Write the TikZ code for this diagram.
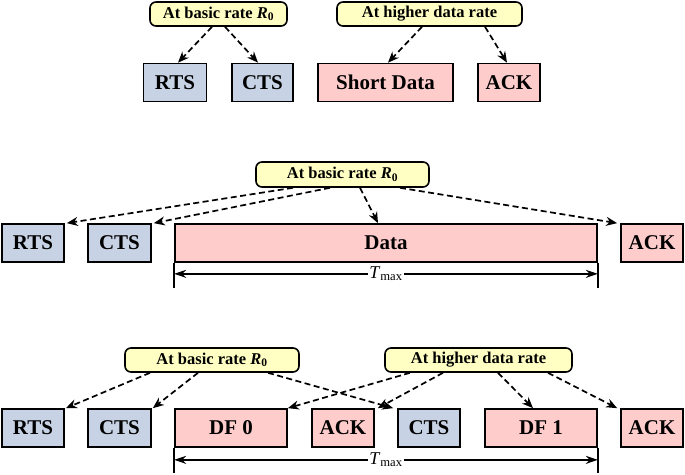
\documentclass[tikz,border=0pt]{standalone}
\usepackage{fontspec}
\setmainfont{Liberation Serif}
\usepackage{xcolor}
\usetikzlibrary{arrows.meta,calc}

\definecolor{ctlblue}{RGB}{199,210,228}
\definecolor{datapink}{RGB}{255,204,204}
\definecolor{rateyellow}{RGB}{255,255,196}

\begin{document}
\begin{tikzpicture}[x=1pt,y=-1pt,
    frame/.style={draw, line width=1.7pt, minimum height=38pt, inner sep=0pt, font=\fontsize{21}{24}\selectfont\bfseries},
    ctl/.style={frame, fill=ctlblue},
    dat/.style={frame, fill=datapink},
    rate/.style={draw, line width=1.6pt, rounded corners=6pt, fill=rateyellow, minimum height=24pt, inner sep=0pt, font=\fontsize{16.5}{19}\selectfont\bfseries},
    link/.style={line width=1.7pt, dash pattern=on 6pt off 3.5pt, -{Stealth[length=11pt,width=9pt]}},
    span/.style={line width=1.6pt, {Stealth[length=12pt,width=8pt]}-{Stealth[length=12pt,width=8pt]}},
    tmax/.style={fill=white, inner sep=1pt, font=\fontsize{18}{20}\selectfont},
  ]
    \useasboundingbox (0,0) rectangle (685,474);

    % Top: rates of the frames
    \node[rate, minimum width=137pt] (tbasic) at (218.5,14) {At basic rate \textit{R}\textsubscript{0}};
    \node[rate, minimum width=185pt] (thigh) at (429.5,14) {At higher data rate};
    \node[ctl, minimum width=63pt] (trts) at (175,82.5) {RTS};
    \node[ctl, minimum width=61pt] (tcts) at (262.5,82.5) {CTS};
    \node[dat, minimum width=135pt] (tshort) at (385.5,82.5) {Short Data};
    \node[dat, minimum width=62pt] (tack) at (509,82.5) {ACK};

    \draw[link] ([xshift=-6.5pt]tbasic.south) -- ([xshift=3pt]trts.north);
    \draw[link] ([xshift=6.5pt]tbasic.south) -- ([xshift=-4.5pt]tcts.north);
    \draw[link] ([xshift=-7.5pt]thigh.south) -- ([xshift=2.5pt]tshort.north);
    \draw[link] ([xshift=55.5pt]thigh.south) -- ([xshift=-2pt]tack.north);

    % Middle: one long data frame
    \node[rate, minimum width=173pt, minimum height=25pt] (mbasic) at (342.5,174.5) {At basic rate \textit{R}\textsubscript{0}};
    \node[ctl, minimum width=62pt] (mrts) at (33,243) {RTS};
    \node[ctl, minimum width=63pt] (mcts) at (119.5,243) {CTS};
    \node[dat, minimum width=422pt] (mdata) at (386,243) {Data};
    \node[dat, minimum width=62pt] (mack) at (652,243) {ACK};

    \draw[link] ([xshift=-49.5pt]mbasic.south) -- ([xshift=2pt]mrts.north east);
    \draw[link] ([xshift=-12.5pt]mbasic.south) -- ([xshift=2pt]mcts.north east);
    \draw[link] ([xshift=17.5pt]mbasic.south) -- ([xshift=-8pt]mdata.north);
    \draw[link] ([xshift=57.5pt]mbasic.south) -- ([xshift=-3pt]mack.north west);

    \draw[line width=1.6pt] (mdata.south west) -- ++(0,25);
    \draw[line width=1.6pt] (mdata.south east) -- ++(0,25);
    \draw[span] ([yshift=-11pt]mdata.south west) -- ([yshift=-11pt]mdata.south east)
        node[tmax, midway] (mtmax) {\textit{T}\textsubscript{max}};

    % Bottom: data fragments
    \node[rate, minimum width=174pt] (bbasic) at (212,360) {At basic rate \textit{R}\textsubscript{0}};
    \node[rate, minimum width=187pt] (bhigh) at (478.5,360) {At higher data rate};
    \node[ctl, minimum width=62pt] (brts) at (33,428) {RTS};
    \node[ctl, minimum width=63pt] (bcts) at (119.5,428) {CTS};
    \node[dat, minimum width=112pt] (bdf0) at (231,428) {DF 0};
    \node[dat, minimum width=62pt] (back) at (343,428) {ACK};
    \node[ctl, minimum width=62pt] (bcts2) at (429,428) {CTS};
    \node[dat, minimum width=112pt] (bdf1) at (541,428) {DF 1};
    \node[dat, minimum width=62pt] (back2) at (652,428) {ACK};

    \draw[link] ([xshift=-62pt]bbasic.south) -- ([xshift=1pt]brts.north east);
    \draw[link] ([xshift=-14pt]bbasic.south) -- ([xshift=1pt]bcts.north east);
    \draw[link] ([xshift=56pt]bbasic.south) -- ([xshift=-4pt]bcts2.north west);
    \draw[link] ([xshift=-68.5pt]bhigh.south) -- (bdf0.north east);
    \draw[link] ([xshift=-35.5pt]bhigh.south) -- ([xshift=3pt]back.north east);
    \draw[link] ([xshift=19.5pt]bhigh.south) -- ([xshift=-8pt]bdf1.north);
    \draw[link] ([xshift=69.5pt]bhigh.south) -- ([xshift=-3pt]back2.north west);

    \draw[line width=1.6pt] (bdf0.south west) -- ++(0,25);
    \draw[line width=1.6pt] (bdf1.south east) -- ++(0,25);
    \draw[span] ([yshift=-12pt]bdf0.south west) -- ([yshift=-12pt]bdf1.south east)
        node[tmax, midway] (btmax) {\textit{T}\textsubscript{max}};
\end{tikzpicture}
\end{document}
